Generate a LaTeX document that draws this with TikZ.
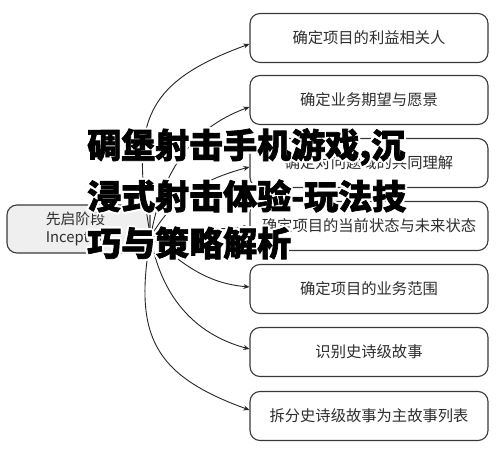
\documentclass[tikz,border=0pt]{standalone}
\usepackage{fontspec}
\setmainfont{Noto Sans CJK SC}
\newfontfamily\ttl[FakeBold=2]{Noto Sans CJK SC}
\usetikzlibrary{arrows.meta}
\definecolor{boxline}{HTML}{3A3A3A}
\definecolor{boxtext}{HTML}{2E2E2E}
\definecolor{srcfill}{HTML}{EFEFEF}
\begin{document}
\begin{tikzpicture}[x=1pt,y=1pt,
  item/.style={draw=boxline, line width=1.1pt, rounded corners=10pt,
    minimum width=238pt, minimum height=49pt, inner sep=0pt,
    font=\fontsize{15.3}{17}\selectfont, text=boxtext},
  src/.style={draw=boxline, line width=1.1pt, rounded corners=10pt, fill=srcfill,
    minimum width=143pt, minimum height=48pt, inner sep=0pt, align=left,
    font=\fontsize{14.8}{18}\selectfont, text=boxtext},
  conn/.style={-{Stealth[length=6pt,width=5pt]}, line width=0.9pt, draw=black!85},
  ttlstyle/.style={anchor=west, inner sep=0pt, font=\ttl\bfseries\fontsize{34}{36}\selectfont}]
\useasboundingbox (0,0) rectangle (500,449);
\fill[white] (0,0) rectangle (500,449);
% left source box
\node[src] (src) at (78.5,220) {先启阶段\\Inception};
% right boxes
\node[item] (b1) at (369,411) {确定项目的利益相关人};
\node[item] (b2) at (369,349) {确定业务期望与愿景};
\node[item] (b3) at (369,286) {确定对问题域的共同理解};
\node[item] (b4) at (369,223) {确定项目的当前状态与未来状态};
\node[item] (b5) at (369,160) {确定项目的业务范围};
\node[item] (b6) at (369,97) {识别史诗级故事};
\node[item] (b7) at (369,33) {拆分史诗级故事为主故事列表};
% connectors
\coordinate (o) at ([yshift=-8pt]src.east);
\draw[conn] (o) to[out=100,in=200,looseness=1.35] ([yshift=-6pt]b1.west);
\draw[conn] (o) to[out=80,in=200] ([yshift=-7pt]b2.west);
\draw[conn] (o) to[out=60,in=195] ([yshift=-4pt]b3.west);
\draw[conn] (o) to[out=15,in=185] ([yshift=-1pt]b4.west);
\draw[conn] (o) to[out=-40,in=175] ([yshift=2pt]b5.west);
\draw[conn] (o) to[out=-80,in=165] ([yshift=3pt]b6.west);
\draw[conn] (o) to[out=-100,in=160,looseness=1.3] ([yshift=6pt]b7.west);
% overlay title with white halo
\foreach \a in {0,45,...,315}{
  \node[ttlstyle, text=white] (h1\a) at ([shift={(\a:2.2pt)}]87,302) {碉堡射击手机游戏,沉};
  \node[ttlstyle, text=white] (h2\a) at ([shift={(\a:2.2pt)}]87,253) {浸式射击体验-玩法技};
  \node[ttlstyle, text=white] (h3\a) at ([shift={(\a:2.2pt)}]87,206) {巧与策略解析};
}
\node[ttlstyle] (t1) at (87,302) {碉堡射击手机游戏,沉};
\node[ttlstyle] (t2) at (87,253) {浸式射击体验-玩法技};
\node[ttlstyle] (t3) at (87,206) {巧与策略解析};
\end{tikzpicture}
\end{document}
